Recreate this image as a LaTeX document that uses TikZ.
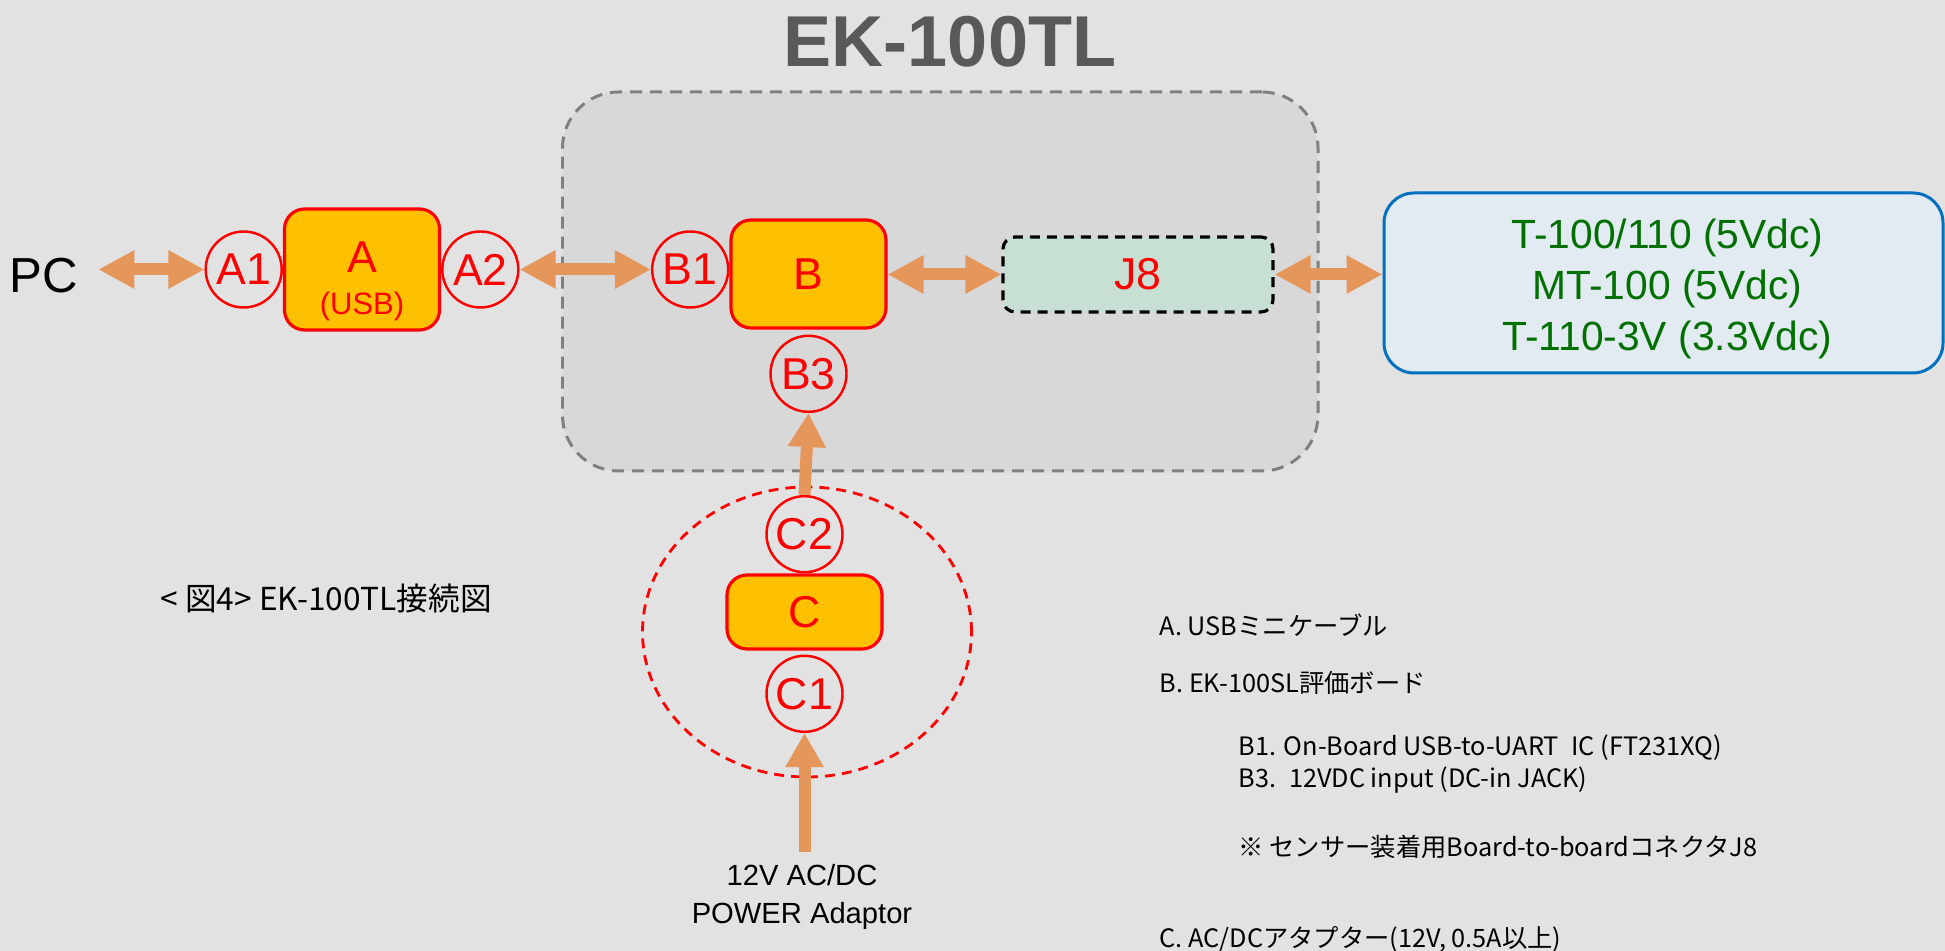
\documentclass[tikz,border=0pt]{standalone}
\usepackage{fontspec}
\setmainfont{Liberation Sans}
\newfontfamily\jpfont{Noto Sans CJK JP}
\usetikzlibrary{positioning, arrows.meta, shapes.geometric}
\definecolor{bggray}{RGB}{226,226,226}
\definecolor{boardgray}{RGB}{216,216,216}
\definecolor{dashgray}{RGB}{128,128,128}
\definecolor{titlegray}{RGB}{89,89,89}
\definecolor{myred}{RGB}{255,0,0}
\definecolor{myyellow}{RGB}{255,192,0}
\definecolor{myorange}{RGB}{229,150,90}
\definecolor{mygreen}{RGB}{0,112,0}
\definecolor{myblue}{RGB}{0,112,192}
\definecolor{lightblue}{RGB}{226,234,242}
\definecolor{j8green}{RGB}{200,224,212}

\begin{document}
\begin{tikzpicture}[
    box/.style={rectangle, rounded corners=0.2cm, draw=myred, line width=0.9pt, fill=myyellow, text=myred, minimum width=1.55cm, text centered, font=\fontsize{12.7}{13}\selectfont},
    port/.style={circle, draw=myred, line width=0.7pt, text=myred, minimum size=0.76cm, inner sep=0pt, font=\fontsize{12.7}{14}\selectfont},
    arrow/.style={line width=0.12cm, draw=myorange, {Triangle[length=0.36cm,width=0.36cm]}-{Triangle[length=0.36cm,width=0.36cm]}},
    uparrow/.style={line width=0.12cm, draw=myorange, -{Triangle[length=0.34cm,width=0.36cm]}},
    note/.style={anchor=west, inner sep=0pt, font=\jpfont\fontsize{7.2}{8}\selectfont}
]

% Background
\useasboundingbox (0,0) rectangle (19.45,-9.51);
\fill[bggray] (0,0) rectangle (19.45,-9.51);

% Board
\node[font=\bfseries\fontsize{20.5}{24}\selectfont, text=titlegray] (title) at (9.50,-0.42) {EK-100TL};
\node[rectangle, draw=dashgray, dash pattern=on 0.12cm off 0.08cm, line width=0.85pt, fill=boardgray, rounded corners=0.56cm, minimum width=7.555cm, minimum height=3.79cm] (board) at (9.4025,-2.815) {};

% PC side
\node[font=\fontsize{14}{16}\selectfont, inner sep=0.2cm] (pc) at (0.435,-2.76) {PC};
\node[box, minimum height=1.21cm] (a) at (3.62,-2.695) {};
\node[text=myred, align=center, font=\fontsize{12.7}{13}\selectfont, yshift=-0.12cm] (atext) at (a) {A\\[-1pt]{\fontsize{8.8}{10}\selectfont (USB)}};
\node[port, left=0pt of a] (a1) {A1};
\node[port, right=0pt of a] (a2) {A2};

% EK-100SL board
\node[box, minimum height=1.08cm] (b) at (8.085,-2.74) {B};
\node[port, anchor=east] (b1) at (b.west |- a2) {B1};
\node[port, below=0.05cm of b] (b3) {B3};
\node[rectangle, draw=black, dash pattern=on 0.1cm off 0.07cm, line width=0.9pt, fill=j8green, rounded corners=0.12cm, text=myred, minimum width=2.70cm, minimum height=0.75cm, font=\fontsize{12.7}{14}\selectfont] (j8) at (11.38,-2.745) {J8};

% Sensors
\node[rectangle, draw=myblue, line width=0.85pt, fill=lightblue, rounded corners=0.3cm, minimum width=5.59cm, minimum height=1.80cm] (sensor) at (16.635,-2.83) {};
\node[align=center, text=mygreen, font=\fontsize{11.6}{14.5}\selectfont, xshift=0.04cm, yshift=-0.06cm] (sensortext) at (sensor) {T-100/110 (5Vdc)\\MT-100 (5Vdc)\\T-110-3V (3.3Vdc)};

% Adaptor
\node[ellipse, draw=myred, dash pattern=on 0.1cm off 0.07cm, line width=0.8pt, minimum width=3.29cm, minimum height=2.90cm] (cgroup) at (8.07,-6.32) {};
\node[box, minimum height=0.74cm] (c) at (8.045,-6.12) {C};
\node[port, above=0pt of c] (c2) {C2};
\node[port, below=0.04cm of c] (c1) {C1};
\node[align=center, font=\fontsize{8.3}{11}\selectfont] (adaptor) at (8.02,-8.97) {12V AC/DC\\POWER Adaptor};

% Arrows
\draw[arrow] (pc.east |- a1.west) -- (a1.west);
\draw[arrow] (a2.east) -- (b1.west);
\draw[arrow] (b.east |- j8.west) -- (j8.west);
\draw[arrow] (j8.east) -- (sensor.west |- j8.east);
\draw[uparrow] (c2.north) -- (b3.south);
\draw[uparrow] (c1.south |- adaptor.north) -- (c1.south);

% Caption and notes
\node[anchor=west, inner sep=0pt, font=\jpfont\fontsize{9}{10}\selectfont] (caption) at (1.60,-5.98) {< 図4> EK-100TL接続図};
\node[note] (nota) at (11.59,-6.25) {A. USBミニケーブル};
\node[note] (notb) at (11.59,-6.83) {B. EK-100SL評価ボード};
\node[note] (notb1) at (12.38,-7.48) {B1. On-Board USB-to-UART\enspace IC (FT231XQ)};
\node[note] (notb3) at (12.38,-7.80) {B3.\enspace 12VDC input (DC-in JACK)};
\node[note] (notj8) at (12.38,-8.47) {※ センサー装着用Board-to-boardコネクタJ8};
\node[note] (notc) at (11.59,-9.39) {C. AC/DCアタプター(12V, 0.5A以上)};

\end{tikzpicture}
\end{document}
